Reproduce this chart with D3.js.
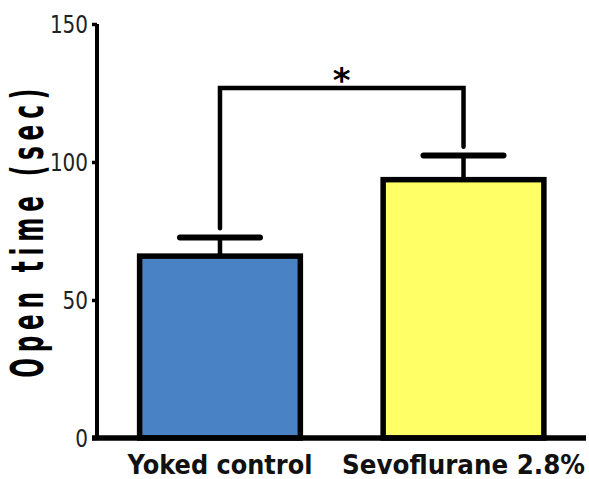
<!DOCTYPE html>
<html>
<head>
<meta charset="utf-8">
<script src="https://cdn.jsdelivr.net/npm/d3@7"></script>
<style>
  body { margin: 0; background: #fff; }
  svg { display: block; }
</style>
</head>
<body>
<svg id="chart" width="589" height="479"></svg>
<script>
// bar chart: open time per group, mean + SEM
const groups = ['Yoked control', 'Sevoflurane 2.8%'];
const means = [65.9, 93.6];
const errors = [6.7, 8.8];
const barColors = ['#4A82C6', '#FFFF66'];
const yTicks = [0, 50, 100, 150];
// significance bracket: top level, and where each leg ends
const bracketTop = 126.8;
const bracketLegEnds = [76, 105.5];
const sigLabel = '*';

const svg = d3.select('#chart');

const y = d3.scaleLinear().domain([0, 150]).range([438, 24]);
const x = d3.scaleBand().domain(groups).range([97, 586.5])
    .paddingInner(0.34).paddingOuter(0.175);

// bars
svg.append('g').selectAll('rect')
    .data(groups)
    .enter()
    .append('rect')
    .attr('x', d => x(d))
    .attr('y', (d, i) => y(means[i]))
    .attr('width', x.bandwidth())
    .attr('height', (d, i) => y(0) - y(means[i]))
    .attr('fill', (d, i) => barColors[i])
    .attr('stroke', '#000')
    .attr('stroke-width', 5.5);

// error bars (upper only)
const eb = svg.append('g').attr('stroke', '#000');
groups.forEach((g, i) => {
    const cx = x(g) + x.bandwidth() / 2;
    eb.append('line')
        .attr('x1', cx).attr('x2', cx)
        .attr('y1', y(means[i])).attr('y2', y(means[i] + errors[i]))
        .attr('stroke-width', 4.5);
    eb.append('line')
        .attr('x1', cx - 40).attr('x2', cx + 40)
        .attr('y1', y(means[i] + errors[i])).attr('y2', y(means[i] + errors[i]))
        .attr('stroke-width', 6)
        .attr('stroke-linecap', 'round');
});

// significance bracket
const c0 = x(groups[0]) + x.bandwidth() / 2;
const c1 = x(groups[1]) + x.bandwidth() / 2;
svg.append('path')
    .attr('d', `M${c0},${y(bracketLegEnds[0])} L${c0},${y(bracketTop)} L${c1},${y(bracketTop)} L${c1},${y(bracketLegEnds[1])}`)
    .attr('fill', 'none')
    .attr('stroke', '#000')
    .attr('stroke-width', 4.5)
    .attr('stroke-linecap', 'round')
    .attr('stroke-linejoin', 'miter');

svg.append('text')
    .attr('x', (c0 + c1) / 2)
    .attr('y', y(bracketTop) + 4)
    .attr('text-anchor', 'middle')
    .attr('font-family', 'DejaVu Sans')
    .attr('font-weight', 'bold')
    .attr('font-size', 34)
    .attr('fill', '#000')
    .text(sigLabel);

// y axis
const yAxis = svg.append('g')
    .attr('transform', 'translate(97,0)')
    .call(d3.axisLeft(y).tickValues(yTicks).tickSize(5).tickPadding(4));
yAxis.select('.domain').attr('stroke-width', 4).attr('d', `M0,${y(150)}V${y(0)}`);
yAxis.selectAll('.tick line').attr('stroke-width', 3.5);
yAxis.selectAll('.tick text')
    .attr('font-family', 'DejaVu Sans Condensed, DejaVu Sans')
    .attr('font-size', 24)
    .attr('fill', '#222')
    .attr('dy', '0.36em')
    .attr('textLength', d => String(d).length * 12.7)
    .attr('lengthAdjust', 'spacingAndGlyphs');

// x axis line
svg.append('line')
    .attr('x1', 92).attr('x2', 586)
    .attr('y1', y(0)).attr('y2', y(0))
    .attr('stroke', '#000')
    .attr('stroke-width', 5.5);

// category labels, squeezed to the widths in the picture
const labelWidths = [185, 243];
groups.forEach((g, i) => {
    const cx = x(g) + x.bandwidth() / 2;
    const t = svg.append('text')
        .attr('font-family', 'DejaVu Sans')
        .attr('font-weight', 'bold')
        .attr('font-size', 27)
        .attr('text-anchor', 'middle')
        .attr('fill', '#111')
        .text(g);
    const w = t.node().getComputedTextLength();
    t.attr('transform', `translate(${cx},474) scale(${labelWidths[i] / w},1)`);
});

// y title: tall, letter-spaced
const title = svg.append('text')
    .attr('font-family', 'DejaVu Sans')
    .attr('font-weight', 'bold')
    .attr('font-size', 45)
    .attr('letter-spacing', '0.25em')
    .attr('text-anchor', 'middle')
    .attr('fill', '#000')
    .text('Open time (sec)');
const tw = title.node().getComputedTextLength();
title.attr('transform', `translate(43,${227.5 + 0.125 * 45 * 295 / tw}) rotate(-90) scale(${295 / tw},1)`);
</script>
</body>
</html>
